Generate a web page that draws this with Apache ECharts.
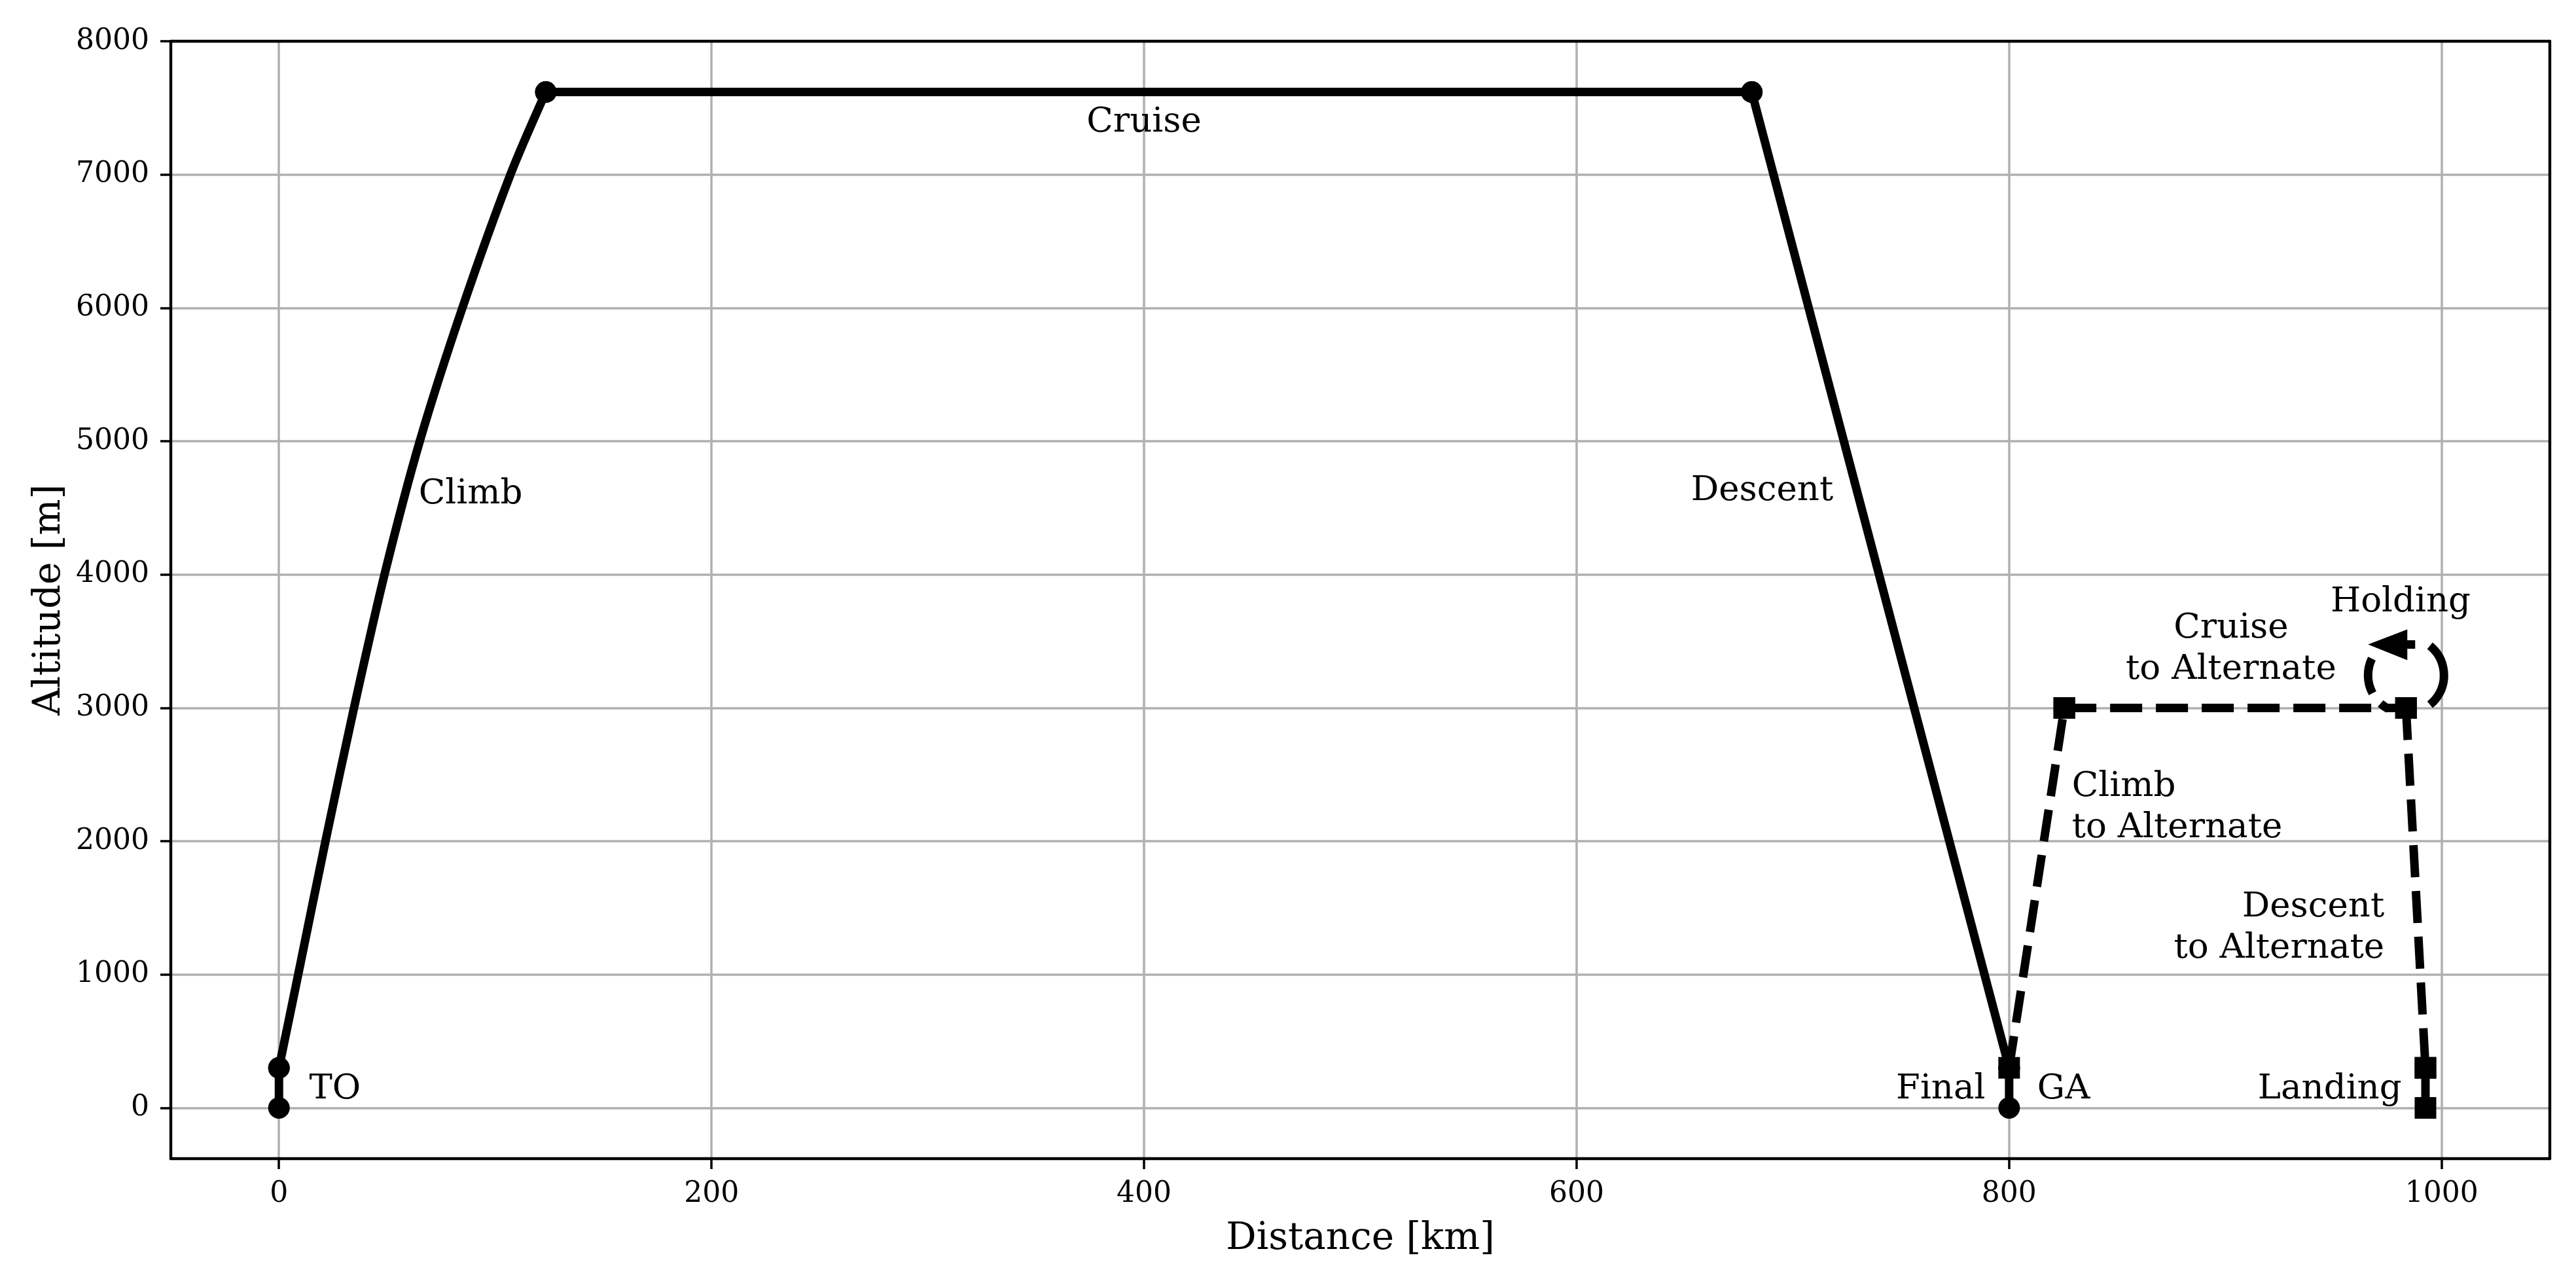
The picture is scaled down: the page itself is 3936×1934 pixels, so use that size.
<!DOCTYPE html>
<html>
<head>
<meta charset="utf-8">
<title>Mission profile</title>
<script src="https://cdn.jsdelivr.net/npm/echarts@6/dist/echarts.min.js"></script>
<style>
  html, body { margin: 0; padding: 0; background: #fff; }
  #chart { width: 3936px; height: 1934px; }
</style>
</head>
<body>
<div id="chart"></div>
<script>
// mission profile, distance in km, altitude in m
var toDist = [0, 0];
var toAlt = [0, 300];
var climbDist = [0, 8.9, 21.5, 34.7, 48.8, 65.1, 84.8, 107.0, 123.4];
var climbAlt = [300, 1000, 2000, 3000, 4000, 5000, 6000, 7000, 7620];
var cruiseDist = [123.4, 681];
var cruiseAlt = [7620, 7620];
var descentDist = [681, 800];
var descentAlt = [7620, 300];
var finalDist = [800, 800];
var finalAlt = [300, 0];

// diversion to alternate (dashed)
var gaDist = [800, 825.5];
var gaAlt = [300, 3000];
var cruiseAltnDist = [825.5, 983.5];
var cruiseAltnAlt = [3000, 3000];
var descentAltnDist = [983.5, 992.5];
var descentAltnAlt = [3000, 300];
var landingDist = [992.5, 992.5];
var landingAlt = [300, 0];

// holding loop centre
var holdDist = [983.5];
var holdAlt = [3245];

var xTicks = [0, 200, 400, 600, 800, 1000];
var yTicks = [0, 1000, 2000, 3000, 4000, 5000, 6000, 7000, 8000];

// segment labels
var noteText = ['TO', 'Climb', 'Cruise', 'Descent', 'Final', 'GA',
  'Climb\nto Alternate', 'Cruise\nto Alternate', 'Holding',
  'Descent\nto Alternate', 'Landing'];
var noteDist = [14, 64.6, 400, 718.7, 789, 813, 829, 902.6, 981, 973.5, 981.5];
var noteAlt = [137, 4600, 7390, 4624, 137, 137, 2251, 3440, 3794, 1350, 137];
var noteAlign = ['left', 'left', 'center', 'right', 'right', 'left',
  'left', 'center', 'center', 'right', 'right'];

var FONT = 'DejaVu Serif';

function pairs(xs, ys) {
  var out = [];
  for (var i = 0; i < xs.length; i++) out.push([xs[i], ys[i]]);
  return out;
}

function plain(v) {
  return String(v);
}

// one flight segment, markers only at both ends
function seg(xs, ys, dashed, marker) {
  var last = xs.length - 1;
  return {
    type: 'line',
    data: pairs(xs, ys),
    symbol: function (v, p) {
      return (p.dataIndex === 0 || p.dataIndex === last) ? marker : 'none';
    },
    symbolSize: 33,
    smooth: xs.length > 2 ? 0.3 : false,
    lineStyle: { color: '#000', width: 13, type: dashed ? [49, 21] : 'solid', cap: 'butt' },
    itemStyle: { color: '#000', borderWidth: 0 },
    emphasis: { disabled: true },
    silent: true,
    animation: false,
    z: dashed ? 4 : 3
  };
}

// top / right spines, drawn over the grid lines
function spine(pos, isX) {
  var ax = {
    type: 'value', position: pos,
    axisLine: { show: true, onZero: false, lineStyle: { color: '#000', width: 4.4 } },
    axisTick: { show: false },
    axisLabel: { show: false },
    splitLine: { show: false }
  };
  if (isX) { ax.min = -50; ax.max = 1050; } else { ax.min = -381; ax.max = 8001; }
  return ax;
}

var chart = echarts.init(document.getElementById('chart'));

var option = {
  backgroundColor: '#fff',
  animation: false,
  grid: { left: 261, right: 40, top: 63, bottom: 164, show: false },
  xAxis: [{
    type: 'value', min: -50, max: 1050, splitNumber: 5,
    name: 'Distance [km]', nameLocation: 'middle', nameGap: 94,
    nameTextStyle: { fontFamily: FONT, fontSize: 58, color: '#000' },
    axisLine: { show: true, onZero: false, lineStyle: { color: '#000', width: 4.4 } },
    axisTick: { show: true, inside: false, length: 16, customValues: xTicks, lineStyle: { color: '#000', width: 3.5 } },
    axisLabel: { customValues: xTicks, formatter: plain, margin: 33, fontFamily: FONT, fontSize: 44, color: '#000' },
    splitLine: { show: true, lineStyle: { color: '#b0b0b0', width: 3.5 } }
  }, spine('top', true)],
  yAxis: [{
    type: 'value', min: -381, max: 8001, splitNumber: 8,
    name: 'Altitude [m]', nameLocation: 'middle', nameGap: 154, nameRotate: 90,
    nameTextStyle: { fontFamily: FONT, fontSize: 58, color: '#000' },
    axisLine: { show: true, onZero: false, lineStyle: { color: '#000', width: 4.4 } },
    axisTick: { show: true, inside: false, length: 16, customValues: yTicks, lineStyle: { color: '#000', width: 3.5 } },
    axisLabel: { customValues: yTicks, formatter: plain, margin: 33, fontFamily: FONT, fontSize: 44, color: '#000' },
    splitLine: { show: true, lineStyle: { color: '#b0b0b0', width: 3.5 } }
  }, spine('right', false)],
  series: [
    seg(toDist, toAlt, false, 'circle'),
    seg(climbDist, climbAlt, false, 'circle'),
    seg(cruiseDist, cruiseAlt, false, 'circle'),
    seg(descentDist, descentAlt, false, 'circle'),
    seg(finalDist, finalAlt, false, 'circle'),
    seg(gaDist, gaAlt, true, 'rect'),
    seg(cruiseAltnDist, cruiseAltnAlt, true, 'rect'),
    seg(descentAltnDist, descentAltnAlt, true, 'rect'),
    seg(landingDist, landingAlt, true, 'rect'),
    {
      // holding: dashed loop with arrow head
      type: 'custom',
      data: pairs(holdDist, holdAlt),
      silent: true,
      animation: false,
      z: 5,
      renderItem: function (params, api) {
        var c = api.coord([api.value(0), api.value(1)]);
        var r = 58;
        var rad = Math.PI / 180;
        return {
          type: 'group',
          children: [
            {
              type: 'arc',
              shape: { cx: c[0], cy: c[1], r: r, startAngle: -51 * rad, endAngle: 206 * rad, clockwise: true },
              style: { stroke: '#000', lineWidth: 13, fill: 'none', lineDash: [103, 68, 14, 20, 55, 400] }
            },
            {
              type: 'polygon',
              shape: { points: [[c[0] - 58, c[1] - 47], [c[0] + 2, c[1] - 70], [c[0] + 2, c[1] - 23]] },
              style: { fill: '#000' }
            },
            {
              type: 'line',
              shape: { x1: c[0], y1: c[1] - 47, x2: c[0] + 14, y2: c[1] - 47 },
              style: { stroke: '#000', lineWidth: 13 }
            }
          ]
        };
      }
    },
    {
      // text labels for each segment
      type: 'custom',
      data: pairs(noteDist, noteAlt),
      silent: true,
      animation: false,
      z: 6,
      renderItem: function (params, api) {
        var i = params.dataIndex;
        var c = api.coord([api.value(0), api.value(1)]);
        return {
          type: 'text',
          x: c[0],
          y: c[1],
          style: {
            text: noteText[i],
            align: noteAlign[i],
            verticalAlign: 'middle',
            fontFamily: FONT,
            fontSize: 53,
            lineHeight: 63,
            fill: '#000'
          }
        };
      }
    }
  ]
};

chart.setOption(option);
</script>
</body>
</html>
